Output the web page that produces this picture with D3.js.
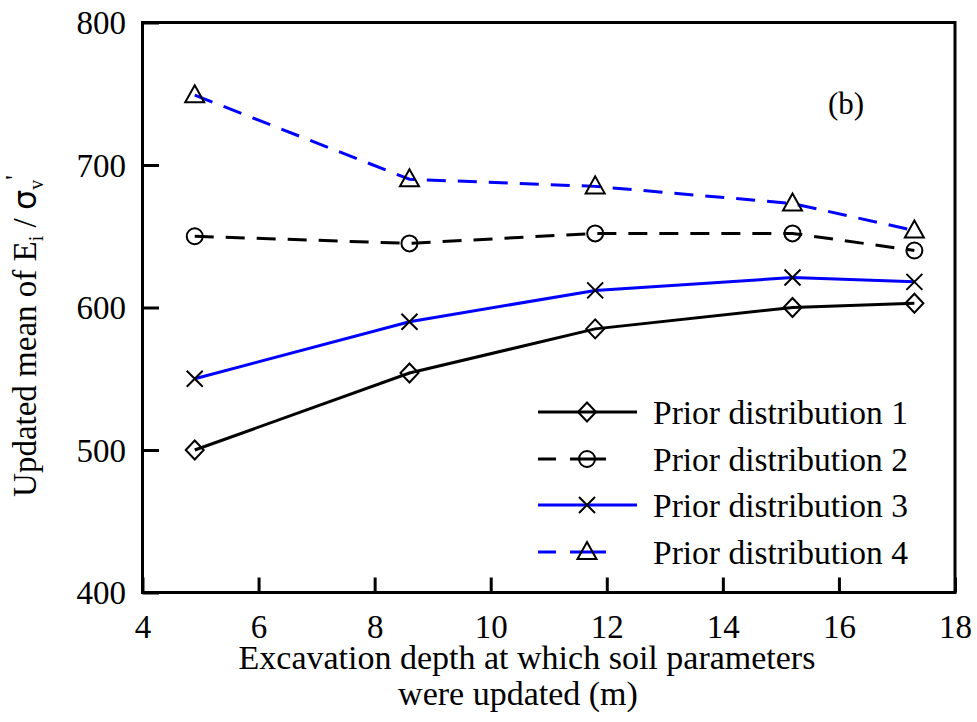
<!DOCTYPE html>
<html>
<head>
<meta charset="utf-8">
<script src="https://cdn.jsdelivr.net/npm/d3@7/dist/d3.min.js"></script>
<style>
  html, body { margin: 0; padding: 0; background: #fff; }
  svg text { font-family: "Liberation Serif", "Times New Roman", serif; fill: #000; }
</style>
</head>
<body>
<svg id="chart" width="977" height="722"></svg>
<script>
// Excavation depths (m) at which the soil parameters were updated
const depths = [4.9, 8.6, 11.8, 15.2, 17.3];

// Updated mean of Ei / σv' for each prior distribution
const prior1 = [500, 554, 585, 600, 603];
const prior2 = [650, 645, 652, 652, 640];
const prior3 = [550, 590, 612, 621, 618];
const prior4 = [749, 690, 685, 673, 654];

const seriesNames = ["Prior distribution 1", "Prior distribution 2", "Prior distribution 3", "Prior distribution 4"];
const seriesValues = [prior1, prior2, prior3, prior4];
const seriesColors = ["#000000", "#000000", "#0000ff", "#0000ff"];
const seriesDashed = [false, true, false, true];
const seriesMarkers = ["diamond", "circle", "cross", "triangle"];

const xTicks = [4, 6, 8, 10, 12, 14, 16, 18];
const yTicks = [400, 500, 600, 700, 800];

const svg = d3.select("#chart");
const plotLeft = 142.5, plotRight = 955, plotTop = 22.5, plotBottom = 592.5;

const x = d3.scaleLinear().domain([4, 18]).range([plotLeft, plotRight]);
const y = d3.scaleLinear().domain([400, 800]).range([plotBottom, plotTop]);

// Axes with inward ticks
const xAxis = svg.append("g")
  .attr("transform", `translate(0,${plotBottom})`)
  .call(d3.axisBottom(x).tickValues(xTicks).tickSizeInner(-15).tickSizeOuter(0).tickFormat(d3.format("d")));
xAxis.select(".domain").remove();
xAxis.selectAll(".tick line").attr("stroke", "#000").attr("stroke-width", 3);
xAxis.selectAll(".tick text")
  .attr("y", 45.5).attr("dy", 0)
  .style("font-size", "33px");

const yAxis = svg.append("g")
  .attr("transform", `translate(${plotLeft},0)`)
  .call(d3.axisLeft(y).tickValues(yTicks).tickSizeInner(-16.5).tickSizeOuter(0).tickFormat(d3.format("d")));
yAxis.select(".domain").remove();
yAxis.selectAll(".tick line").attr("stroke", "#000").attr("stroke-width", 3);
yAxis.selectAll(".tick text")
  .attr("x", -16.5).attr("dy", "0.34em")
  .style("font-size", "33px");

// Plot frame
svg.append("rect")
  .attr("x", plotLeft).attr("y", plotTop)
  .attr("width", plotRight - plotLeft).attr("height", plotBottom - plotTop)
  .attr("fill", "none").attr("stroke", "#000").attr("stroke-width", 3);

// Marker shapes
function drawMarker(g, type, cx, cy) {
  let el;
  if (type === "diamond") {
    el = g.append("path").attr("d", `M${cx},${cy - 9.5}L${cx + 9},${cy}L${cx},${cy + 9.5}L${cx - 9},${cy}Z`);
  } else if (type === "circle") {
    el = g.append("circle").attr("cx", cx).attr("cy", cy).attr("r", 8);
  } else if (type === "cross") {
    el = g.append("path").attr("d", `M${cx - 8},${cy - 8}L${cx + 8},${cy + 8}M${cx - 8},${cy + 8}L${cx + 8},${cy - 8}`);
  } else {
    el = g.append("path").attr("d", `M${cx},${cy - 10}L${cx + 9.5},${cy + 7}L${cx - 9.5},${cy + 7}Z`);
  }
  el.attr("fill", "none").attr("stroke", "#000").attr("stroke-width", 2);
}

const line = d3.line().x(d => x(d[0])).y(d => y(d[1]));

seriesValues.forEach((vals, i) => {
  const pts = depths.map((d, j) => [d, vals[j]]);
  svg.append("path")
    .datum(pts)
    .attr("d", line)
    .attr("fill", "none")
    .attr("stroke", seriesColors[i])
    .attr("stroke-width", 3)
    .attr("stroke-dasharray", seriesDashed[i] ? "19,12" : null);
  const g = svg.append("g");
  pts.forEach(p => drawMarker(g, seriesMarkers[i], x(p[0]), y(p[1])));
});

// Legend
const legX0 = 538, legX1 = 637, legMark = 587, legText = 653;
const legRows = [412, 459, 505, 552];
seriesNames.forEach((name, i) => {
  const ly = legRows[i];
  const g = svg.append("g");
  if (seriesDashed[i]) {
    g.append("line").attr("x1", legX0).attr("x2", legX0 + 18).attr("y1", ly).attr("y2", ly)
      .attr("stroke", seriesColors[i]).attr("stroke-width", 3);
    g.append("line").attr("x1", legX0 + 32).attr("x2", legX0 + 68).attr("y1", ly).attr("y2", ly)
      .attr("stroke", seriesColors[i]).attr("stroke-width", 3);
    g.append("line").attr("x1", legX0 + 82).attr("x2", legX1 - 17).attr("y1", ly).attr("y2", ly)
      .attr("stroke", seriesColors[i]).attr("stroke-width", 3);
  } else {
    g.append("line").attr("x1", legX0).attr("x2", legX1).attr("y1", ly).attr("y2", ly)
      .attr("stroke", seriesColors[i]).attr("stroke-width", 3);
  }
  drawMarker(g, seriesMarkers[i], legMark, ly);
  g.append("text").attr("x", legText).attr("y", ly).attr("dy", "0.35em")
    .style("font-size", "33.5px").text(name);
});

// Panel label
svg.append("text").attr("x", 846).attr("y", 114).attr("text-anchor", "middle")
  .style("font-size", "31px").text("(b)");

// X axis title (two lines)
svg.append("text").attr("x", 527).attr("y", 669).attr("text-anchor", "middle")
  .style("font-size", "34px").text("Excavation depth at which soil parameters");
svg.append("text").attr("x", 518).attr("y", 705).attr("text-anchor", "middle")
  .style("font-size", "34px").text("were updated (m)");

// Y axis title with subscripts and prime
const yTitle = svg.append("text")
  .attr("transform", "translate(36,336) rotate(-90)")
  .attr("text-anchor", "middle")
  .style("font-size", "33px");
yTitle.append("tspan").text("Updated mean of  E");
yTitle.append("tspan").attr("dy", 7).style("font-size", "20px").text("i");
yTitle.append("tspan").attr("dy", -7).text(" / ");
yTitle.append("tspan").style("font-family", "'DejaVu Sans', sans-serif").style("font-size", "32px").text("σ");
yTitle.append("tspan").attr("dy", 7).style("font-size", "20px").text("v");
yTitle.append("tspan").attr("dy", -20).style("font-size", "26px").text("'");
</script>
</body>
</html>
